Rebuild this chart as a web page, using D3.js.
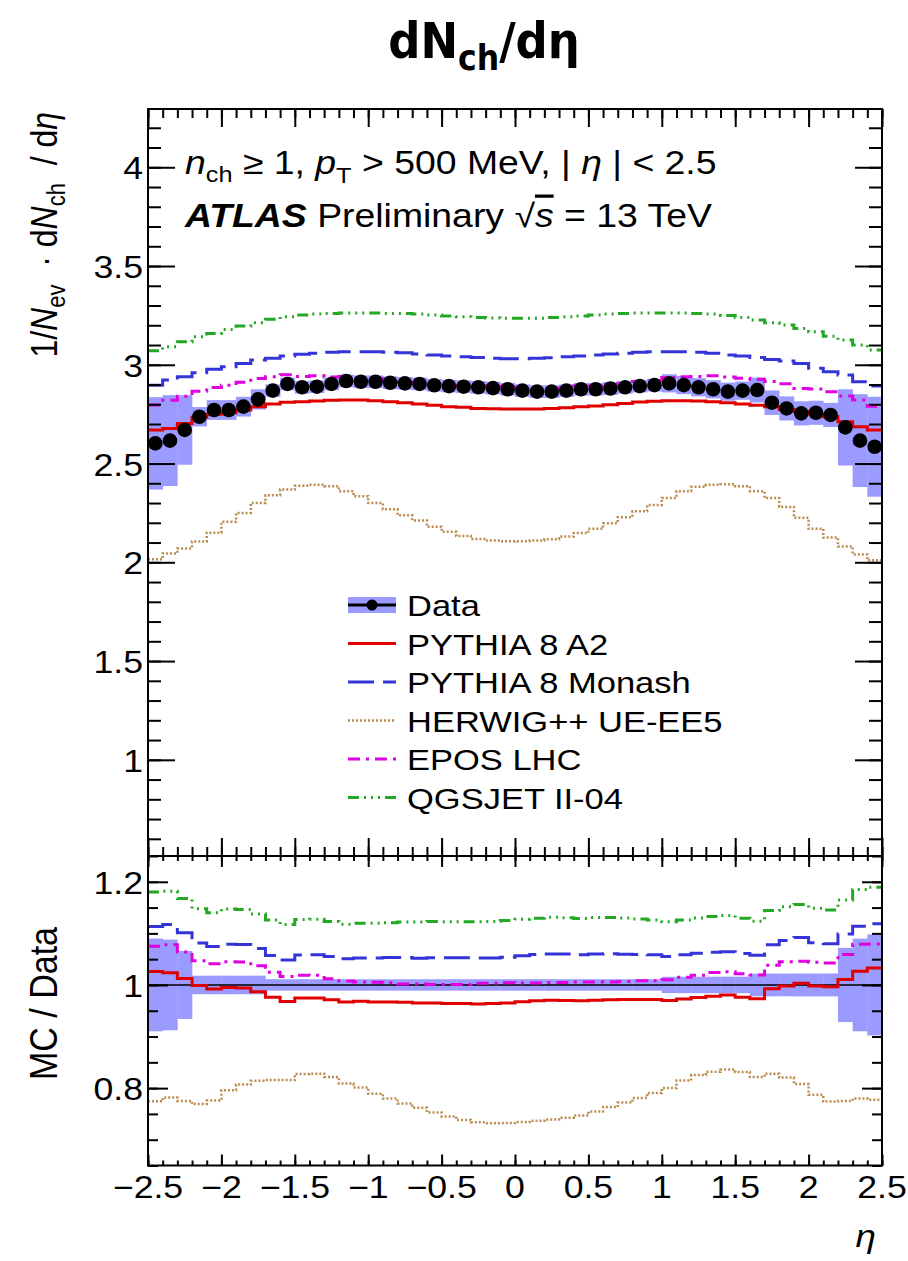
<!DOCTYPE html>
<html><head><meta charset="utf-8">
<script src="https://cdn.jsdelivr.net/npm/d3@7"></script>
<style>
body{margin:0;background:#fff;}
svg text{font-family:"Liberation Sans",Arial,Helvetica,sans-serif;fill:#000;}
</style>
</head><body>
<svg id="c" width="908" height="1261"></svg>
<script>
// ---------------- data ----------------
const etaCenters = [-2.45,-2.35,-2.25,-2.15,-2.05,-1.95,-1.85,-1.75,-1.65,-1.55,
  -1.45,-1.35,-1.25,-1.15,-1.05,-0.95,-0.85,-0.75,-0.65,-0.55,
  -0.45,-0.35,-0.25,-0.15,-0.05,0.05,0.15,0.25,0.35,0.45,
  0.55,0.65,0.75,0.85,0.95,1.05,1.15,1.25,1.35,1.45,
  1.55,1.65,1.75,1.85,1.95,2.05,2.15,2.25,2.35,2.45];
const binWidth = 0.1;

const dataValues = [2.602,2.616,2.670,2.737,2.771,2.771,2.788,2.825,2.869,2.903,
  2.886,2.889,2.903,2.918,2.914,2.914,2.909,2.906,2.903,2.896,
  2.892,2.889,2.886,2.882,2.876,2.869,2.864,2.864,2.869,2.876,
  2.876,2.880,2.886,2.892,2.897,2.906,2.897,2.886,2.876,2.864,
  2.869,2.872,2.808,2.779,2.754,2.757,2.746,2.683,2.616,2.585];
const dataErrors = [0.234,0.230,0.176,0.049,0.050,0.050,0.050,0.051,0.032,0.032,
  0.032,0.032,0.032,0.032,0.032,0.032,0.032,0.032,0.032,0.032,
  0.032,0.032,0.032,0.032,0.032,0.032,0.032,0.032,0.032,0.032,
  0.032,0.032,0.032,0.032,0.032,0.046,0.046,0.046,0.046,0.046,
  0.046,0.063,0.062,0.061,0.061,0.061,0.061,0.193,0.235,0.253];

const pythiaA2 = [2.670,2.678,2.703,2.734,2.749,2.757,2.771,2.788,2.801,2.810,
  2.813,2.816,2.820,2.822,2.822,2.818,2.813,2.808,2.801,2.795,
  2.788,2.785,2.779,2.778,2.776,2.776,2.776,2.779,2.782,2.788,
  2.791,2.798,2.804,2.811,2.815,2.818,2.818,2.816,2.813,2.808,
  2.801,2.795,2.788,2.774,2.763,2.751,2.737,2.712,2.686,2.670];
const pythiaMonash = [2.897,2.923,2.940,2.960,2.977,2.990,3.007,3.024,3.033,3.044,
  3.053,3.058,3.063,3.066,3.066,3.066,3.064,3.061,3.054,3.049,
  3.044,3.041,3.037,3.033,3.031,3.031,3.033,3.036,3.041,3.044,
  3.049,3.054,3.058,3.063,3.066,3.066,3.066,3.063,3.058,3.049,
  3.044,3.037,3.027,3.019,3.007,2.982,2.965,2.948,2.914,2.892];
const herwigUEEE5 = [2.015,2.045,2.070,2.105,2.150,2.205,2.250,2.300,2.340,2.368,
  2.388,2.392,2.385,2.360,2.335,2.300,2.268,2.238,2.212,2.180,
  2.155,2.133,2.118,2.110,2.106,2.107,2.110,2.117,2.130,2.148,
  2.170,2.198,2.228,2.258,2.290,2.325,2.360,2.382,2.392,2.395,
  2.385,2.360,2.325,2.280,2.225,2.170,2.125,2.080,2.040,2.010];
const eposLHC = [2.797,2.820,2.841,2.866,2.885,2.896,2.912,2.930,2.940,2.950,
  2.941,2.944,2.938,2.941,2.931,2.929,2.921,2.912,2.909,2.899,
  2.895,2.892,2.895,2.891,2.888,2.880,2.875,2.878,2.883,2.893,
  2.893,2.897,2.906,2.915,2.920,2.935,2.940,2.941,2.945,2.938,
  2.932,2.927,2.915,2.904,2.880,2.878,2.863,2.842,2.822,2.790];
const qgsjetII04 = [3.071,3.091,3.117,3.142,3.159,3.179,3.196,3.213,3.230,3.243,
  3.252,3.257,3.260,3.262,3.262,3.262,3.260,3.260,3.257,3.252,
  3.247,3.243,3.240,3.237,3.235,3.235,3.235,3.240,3.243,3.247,
  3.252,3.257,3.260,3.262,3.262,3.262,3.262,3.260,3.257,3.250,
  3.240,3.227,3.213,3.201,3.184,3.167,3.145,3.125,3.100,3.075];

const seriesNames = ["PYTHIA 8 A2","PYTHIA 8 Monash","HERWIG++ UE-EE5","EPOS LHC","QGSJET II-04"];
const seriesValues = [pythiaA2, pythiaMonash, herwigUEEE5, eposLHC, qgsjetII04];

const xTickValues = [-2.5,-2,-1.5,-1,-0.5,0,0.5,1,1.5,2,2.5];
const xTickLabels = ["\u22122.5","\u22122","\u22121.5","\u22121","\u22120.5","0","0.5","1","1.5","2","2.5"];
const topTickValues = [1,1.5,2,2.5,3,3.5,4];
const topTickLabels = ["1","1.5","2","2.5","3","3.5","4"];
const ratioTickValues = [0.8,1,1.2];
const ratioTickLabels = ["0.8","1","1.2"];

// ---------------- styles ----------------
const styles = [
  {color:"#e00000", dash:null, width:3},
  {color:"#3434d8", dash:"26,9", width:3},
  {color:"#bb8c50", dash:"2,2", width:2.5},
  {color:"#e000e0", dash:"12,6,3,6", width:3},
  {color:"#22a822", dash:"11,5,2,5,2,5,2,5", width:3}
];
const bandColor = "#9a9aff";
const SX = 1.15; // horizontal stretch of the reference text

// ---------------- layout ----------------
const svg = d3.select("#c");
const L = 148, R = 882, T = 109, M = 856, B = 1165.5;
const x = d3.scaleLinear().domain([-2.5,2.5]).range([L,R]);
const yTop = d3.scaleLinear().domain([0.513,4.295]).range([M,T]);
const yRat = d3.scaleLinear().domain([0.65,1.25]).range([B,M]);

const defs = svg.append("defs");
defs.append("clipPath").attr("id","clipTop").append("rect").attr("x",L).attr("y",T).attr("width",R-L).attr("height",M-T);
defs.append("clipPath").attr("id","clipRat").append("rect").attr("x",L).attr("y",M).attr("width",R-L).attr("height",B-M);

function stext(parent, px, py, anchor, size, rot){
  const t = parent.append("text")
    .attr("transform", `translate(${px},${py}) scale(${SX},1)` + (rot ? ` rotate(${rot})` : ""))
    .attr("text-anchor", anchor).style("font-size", size + "px");
  return t;
}

function stepPoints(vals){
  const pts = [];
  etaCenters.forEach((c,i) => { pts.push([c - binWidth/2, vals[i]]); pts.push([c + binWidth/2, vals[i]]); });
  return pts;
}

// ---------- top panel ----------
const gTop = svg.append("g").attr("clip-path","url(#clipTop)");
gTop.selectAll("rect.band").data(etaCenters).join("rect")
  .attr("x", d => x(d - binWidth/2)).attr("width", d => x(d + binWidth/2) - x(d - binWidth/2) + 0.3)
  .attr("y", (d,i) => yTop(dataValues[i] + dataErrors[i]))
  .attr("height", (d,i) => yTop(dataValues[i] - dataErrors[i]) - yTop(dataValues[i] + dataErrors[i]))
  .attr("fill", bandColor);

const lineTop = d3.line().x(d => x(d[0])).y(d => yTop(d[1]));
seriesValues.forEach((vals,k) => {
  gTop.append("path").attr("d", lineTop(stepPoints(vals))).attr("fill","none")
    .attr("stroke", styles[k].color).attr("stroke-width", styles[k].width)
    .attr("stroke-dasharray", styles[k].dash);
});
gTop.selectAll("circle.pt").data(etaCenters).join("circle")
  .attr("cx", d => x(d)).attr("cy", (d,i) => yTop(dataValues[i])).attr("r", 7.3).attr("fill","#000");

// ---------- ratio panel ----------
const gRat = svg.append("g").attr("clip-path","url(#clipRat)");
gRat.selectAll("rect.band").data(etaCenters).join("rect")
  .attr("x", d => x(d - binWidth/2)).attr("width", d => x(d + binWidth/2) - x(d - binWidth/2) + 0.3)
  .attr("y", (d,i) => yRat(1 + dataErrors[i]/dataValues[i]))
  .attr("height", (d,i) => yRat(1 - dataErrors[i]/dataValues[i]) - yRat(1 + dataErrors[i]/dataValues[i]))
  .attr("fill", bandColor);
gRat.append("line").attr("x1",L).attr("x2",R).attr("y1",yRat(1)).attr("y2",yRat(1)).attr("stroke","#000").attr("stroke-width",1.5);
const lineRat = d3.line().x(d => x(d[0])).y(d => yRat(d[1]));
seriesValues.forEach((vals,k) => {
  const ratio = vals.map((v,i) => v / dataValues[i]);
  gRat.append("path").attr("d", lineRat(stepPoints(ratio))).attr("fill","none")
    .attr("stroke", styles[k].color).attr("stroke-width", styles[k].width)
    .attr("stroke-dasharray", styles[k].dash);
});

// ---------- axes / ticks ----------
function ticks(axisFn, scale, vals, size, tx, ty){
  const g = svg.append("g").attr("transform",`translate(${tx},${ty})`)
    .call(axisFn(scale).tickValues(vals).tickSize(size).tickFormat(""));
  g.select(".domain").remove();
  g.selectAll("line").attr("stroke","#000").attr("stroke-width",2);
}
const xMinor = d3.range(-2.5, 2.5001, 0.1).map(v => +v.toFixed(2));
const topMinor = d3.range(0.6, 4.3, 0.1).map(v => +v.toFixed(2));
const ratMinor = d3.range(0.65, 1.2501, 0.05).map(v => +v.toFixed(2));

// top panel
ticks(d3.axisRight, yTop, topTickValues, 27, L, 0);
ticks(d3.axisRight, yTop, topMinor, 13, L, 0);
ticks(d3.axisLeft, yTop, topTickValues, 27, R, 0);
ticks(d3.axisLeft, yTop, topMinor, 13, R, 0);
ticks(d3.axisBottom, x, xTickValues, 18, 0, T);
ticks(d3.axisBottom, x, xMinor, 9, 0, T);
ticks(d3.axisTop, x, xTickValues, 18, 0, M);
ticks(d3.axisTop, x, xMinor, 9, 0, M);
// ratio panel
ticks(d3.axisRight, yRat, ratioTickValues, 20, L, 0);
ticks(d3.axisRight, yRat, ratMinor, 10, L, 0);
ticks(d3.axisLeft, yRat, ratioTickValues, 20, R, 0);
ticks(d3.axisLeft, yRat, ratMinor, 10, R, 0);
ticks(d3.axisBottom, x, xTickValues, 11, 0, M);
ticks(d3.axisBottom, x, xMinor, 5, 0, M);
ticks(d3.axisTop, x, xTickValues, 11, 0, B);
ticks(d3.axisTop, x, xMinor, 5, 0, B);

// frames
svg.append("rect").attr("x",L).attr("y",T).attr("width",R-L).attr("height",M-T).attr("fill","none").attr("stroke","#000").attr("stroke-width",2);
svg.append("rect").attr("x",L).attr("y",M).attr("width",R-L).attr("height",B-M).attr("fill","none").attr("stroke","#000").attr("stroke-width",2);

// tick labels
topTickValues.forEach((v,i) => stext(svg, 143, yTop(v) + 12, "end", 31).text(topTickLabels[i]));
ratioTickValues.forEach((v,i) => stext(svg, 143, yRat(v) + 12, "end", 31).text(ratioTickLabels[i]));
xTickValues.forEach((v,i) => stext(svg, x(v), 1198, "middle", 31).text(xTickLabels[i]));

// axis titles
{
  const t = stext(svg, 57, 112, "end", 32, -90).attr("xml:space","preserve").style("white-space","pre");
  t.append("tspan").text("1/");
  t.append("tspan").style("font-style","italic").text("N");
  t.append("tspan").attr("dy",7).style("font-size","22px").text("ev");
  t.append("tspan").attr("dy",-7).text("  \u00b7 d");
  t.append("tspan").style("font-style","italic").text("N");
  t.append("tspan").attr("dy",7).style("font-size","22px").text("ch");
  t.append("tspan").attr("dy",-7).text("  / d");
  t.append("tspan").style("font-style","italic").text("\u03b7");
}
stext(svg, 57, 927, "end", 34, -90).text("MC / Data");
stext(svg, 876, 1247, "end", 32).style("font-style","italic").text("\u03b7");

// title
{
  const t = svg.append("text").attr("x", 484).attr("y", 58).attr("text-anchor","middle")
    .style("font-family","'Liberation Sans Narrow','DejaVu Sans Condensed','Roboto',sans-serif")
    .style("font-weight","bold").style("font-size","50px");
  t.append("tspan").text("dN");
  t.append("tspan").attr("dy",12).style("font-size","35px").text("ch");
  t.append("tspan").attr("dy",-12).text("/d\u03b7");
}

// annotations
{
  const t = stext(svg, 185, 174, "start", 32.5);
  t.append("tspan").style("font-style","italic").text("n");
  t.append("tspan").attr("dy",8).style("font-size","22px").text("ch");
  t.append("tspan").attr("dy",-8).text(" \u2265 1, ");
  t.append("tspan").style("font-style","italic").text("p");
  t.append("tspan").attr("dy",9).style("font-size","22px").text("T");
  t.append("tspan").attr("dy",-9).text(" > 500 MeV, | ");
  t.append("tspan").style("font-style","italic").text("\u03b7");
  t.append("tspan").text(" | < 2.5");
}
{
  const t = stext(svg, 185, 227, "start", 32.5);
  t.append("tspan").style("font-style","italic").style("font-weight","bold").text("ATLAS");
  t.append("tspan").text(" Preliminary \u221a");
  t.append("tspan").style("font-style","italic").style("text-decoration","overline").text("s");
  t.append("tspan").text(" = 13 TeV");
}

// legend
const legY = [605, 643.5, 682, 720.5, 759, 797.5];
const lx0 = 348, lx1 = 396, ltx = 407;
{
  const g = svg.append("g");
  g.append("rect").attr("x",lx0).attr("y",legY[0]-8).attr("width",lx1-lx0).attr("height",16).attr("fill",bandColor);
  g.append("line").attr("x1",lx0).attr("x2",lx1).attr("y1",legY[0]).attr("y2",legY[0]).attr("stroke","#000").attr("stroke-width",3);
  g.append("circle").attr("cx",(lx0+lx1)/2).attr("cy",legY[0]).attr("r",5.5).attr("fill","#000");
  stext(g, ltx, legY[0]+11, "start", 30).text("Data");
}
seriesNames.forEach((n,k) => {
  const yy = legY[k+1];
  svg.append("line").attr("x1",lx0).attr("x2",lx1).attr("y1",yy).attr("y2",yy)
    .attr("stroke",styles[k].color).attr("stroke-width",styles[k].width).attr("stroke-dasharray",styles[k].dash);
  stext(svg, ltx, yy+11, "start", 30).text(n);
});
</script>
</body></html>
